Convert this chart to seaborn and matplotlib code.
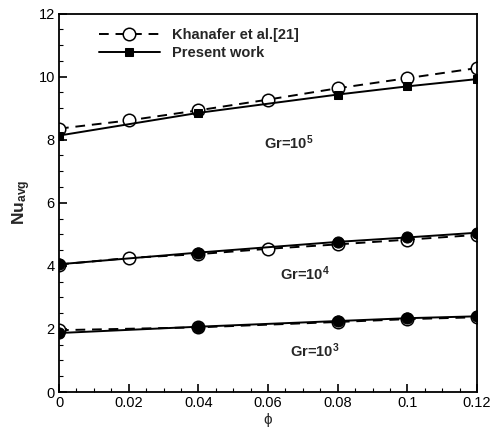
import matplotlib
matplotlib.use("Agg")
import matplotlib.pyplot as plt
import seaborn as sns
from matplotlib.ticker import MultipleLocator

sns.set_theme(style="ticks")
plt.rcParams['font.family'] = ['Liberation Sans', 'DejaVu Sans']
plt.rcParams['mathtext.fontset'] = 'custom'
plt.rcParams['mathtext.rm'] = 'Liberation Sans:bold'
plt.rcParams['mathtext.bf'] = 'Liberation Sans:bold'
plt.rcParams['mathtext.it'] = 'Liberation Sans:bold'

# Khanafer et al. [21]
phi_k = [0, 0.02, 0.04, 0.06, 0.08, 0.10, 0.12]
k_gr5 = [8.35, 8.61, 8.93, 9.27, 9.63, 9.95, 10.27]
k_gr4 = [4.04, 4.25, 4.37, 4.54, 4.68, 4.83, 4.98]
phi_k3 = [0, 0.04, 0.08, 0.10, 0.12]
k_gr3 = [1.96, 2.05, 2.22, 2.31, 2.37]

# Present work
phi_p = [0, 0.04, 0.08, 0.10, 0.12]
p_gr5 = [8.13, 8.85, 9.43, 9.69, 9.92]
p_gr4 = [4.05, 4.42, 4.76, 4.90, 5.05]
p_gr3 = [1.87, 2.07, 2.25, 2.34, 2.40]

labels = ["Khanafer et al.[21]", "Present work"]
gr_labels = [r"Gr=10$^{\mathbf{5}}$", r"Gr=10$^{\mathbf{4}}$", r"Gr=10$^{\mathbf{3}}$"]
xticks = [0, 0.02, 0.04, 0.06, 0.08, 0.10, 0.12]
xtick_labels = ["0", "0.02", "0.04", "0.06", "0.08", "0.1", "0.12"]
yticks = [0, 2, 4, 6, 8, 10, 12]

fig = plt.figure(figsize=(4.92, 4.28), dpi=100)
ax = fig.add_axes([59/492, 1 - 392/428, (477-59)/492, (392-13.5)/428])

dash = (5, 3.5)
for i, (x, y) in enumerate([(phi_k, k_gr5), (phi_k, k_gr4), (phi_k3, k_gr3)]):
    sns.lineplot(x=x, y=y, ax=ax, color="black", lw=1.4, marker="o", markersize=9,
                 markerfacecolor="white", markeredgecolor="black", markeredgewidth=1.1,
                 label=labels[0] if i == 0 else None, zorder=2)
    ax.lines[-1].set_dashes(dash)

for i, (x, y) in enumerate([(phi_p, p_gr5), (phi_p, p_gr4), (phi_p, p_gr3)]):
    mk = "s" if i == 0 else "o"
    ms = 6 if i == 0 else 8
    sns.lineplot(x=x, y=y, ax=ax, color="black", lw=1.4, marker=mk, markersize=ms,
                 markerfacecolor="black", markeredgecolor="black",
                 label=labels[1] if i == 0 else None, zorder=3)

ax.set_xlim(0, 0.12)
ax.set_ylim(0, 12)
ax.set_xticks(xticks, xtick_labels)
ax.set_yticks(yticks, [str(v) for v in yticks])
ax.xaxis.set_minor_locator(MultipleLocator(0.005))
ax.yaxis.set_minor_locator(MultipleLocator(0.5))
ax.tick_params(which="both", direction="in", top=False, right=False, labelsize=10.5,
               colors="black", pad=3)
ax.tick_params(which="major", length=6, width=1.2)
ax.tick_params(which="minor", length=3, width=0.8)
for s in ax.spines.values():
    s.set_linewidth(1.3)
    s.set_color("black")

ax.set_xlabel("ϕ", fontsize=11, labelpad=2)
ax.set_ylabel(r"Nu$_{\mathbf{avg}}$", fontsize=12.5, fontweight="bold", labelpad=4)

txt_pos = [(0.066, 7.9), (0.0705, 3.75), (0.0735, 1.3)]
for (tx, ty), t in zip(txt_pos, gr_labels):
    ax.text(tx, ty, t, ha="center", va="center", fontsize=10.5, fontweight="bold")

leg = ax.legend(loc="upper left", frameon=False, fontsize=10.5, handlelength=4.2,
                borderaxespad=0.6, bbox_to_anchor=(0.06, 1.0), labelspacing=0.3)
for t in leg.get_texts():
    t.set_fontweight("bold")
leg.legend_handles[0].set_dashes(dash)

fig.savefig("out.png", dpi=100, facecolor="white")
